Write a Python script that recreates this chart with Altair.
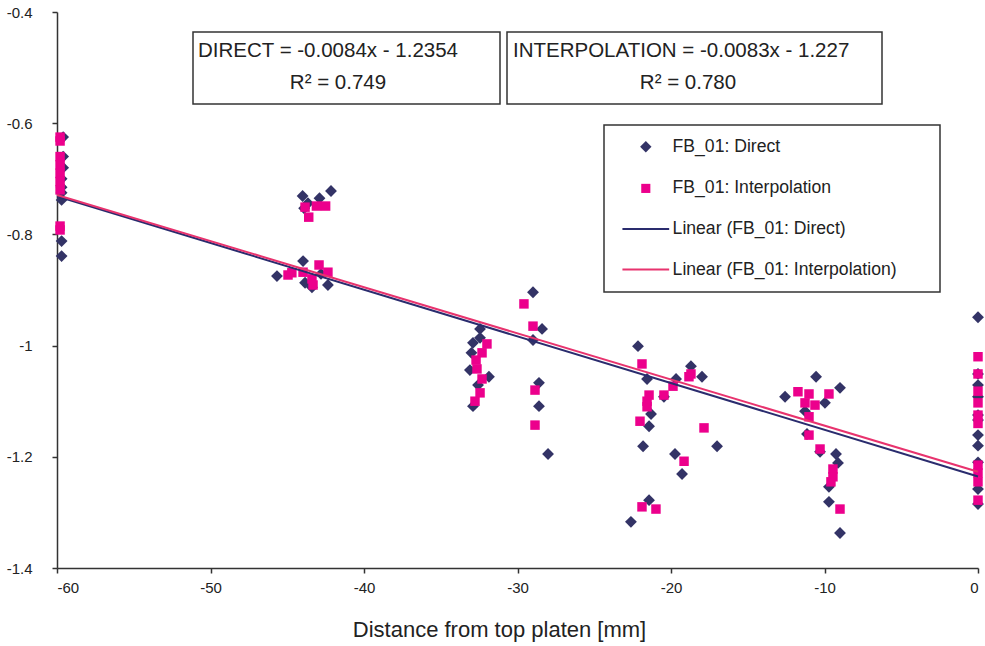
import altair as alt
import pandas as pd

# ---------------- data ----------------
direct_x = [-59.6, -59.6, -59.6, -59.7, -59.7, -59.7, -59.7, -59.7, -59.7,
            -44.0, -43.65, -42.9, -42.15, -43.9,
            -45.67, -43.97, -43.84, -43.39, -42.8, -42.35,
            -32.44, -32.44, -32.9, -33.0, -33.1, -31.86, -32.57, -32.9,
            -28.99, -28.4, -28.99, -28.6, -28.6, -28.01,
            -22.15, -21.56, -21.30, -21.43, -21.82, -20.46, -19.67, -18.70, -17.98,
            -19.74, -19.28, -17.0, -21.43, -22.61,
            -10.55, -8.99, -12.57, -9.97, -11.27, -11.14, -10.29, -9.25, -9.12,
            -9.71, -9.71, -8.99,
            0, 0, 0, 0, 0, 0, 0, 0, 0, 0, 0]
direct_y = [-0.625, -0.66, -0.68, -0.70, -0.715, -0.725, -0.738, -0.812, -0.839,
            -0.731, -0.744, -0.735, -0.722, -0.753,
            -0.875, -0.848, -0.887, -0.895, -0.871, -0.891,
            -0.970, -0.986, -0.995, -1.013, -1.044, -1.056, -1.071, -1.109,
            -0.904, -0.970, -0.990, -1.067, -1.109, -1.195,
            -1.001, -1.060, -1.123, -1.145, -1.181, -1.092, -1.060, -1.037, -1.056,
            -1.195, -1.231, -1.181, -1.278, -1.317,
            -1.056, -1.076, -1.092, -1.103, -1.118, -1.159, -1.191, -1.195, -1.211,
            -1.254, -1.281, -1.337,
            -0.949, -1.051, -1.071, -1.092, -1.125, -1.134, -1.161, -1.18, -1.21, -1.258, -1.285]

interp_x = [-59.8, -59.8, -59.8, -59.8, -59.8, -59.8, -59.8, -59.8, -59.8,
            -43.84, -43.6, -43.1, -42.5,
            -44.95, -44.7, -43.97, -42.93, -43.39, -42.35, -43.32,
            -31.99, -32.31, -32.7, -32.64, -32.31, -32.44, -32.77,
            -29.58, -28.99, -28.86, -28.86,
            -21.89, -21.43, -21.56, -21.56, -22.02, -20.46, -19.87, -18.83, -18.70,
            -17.85, -19.15, -21.89, -20.98,
            -11.73, -11.01, -9.71, -11.27, -10.62, -11.01, -11.01, -10.29, -9.45,
            -9.45, -9.58, -8.99,
            0, 0, 0, 0, 0, 0, 0, 0, 0, 0]
interp_y = [-0.625, -0.632, -0.66, -0.675, -0.69, -0.705, -0.72, -0.785, -0.792,
            -0.751, -0.769, -0.749, -0.749,
            -0.873, -0.869, -0.868, -0.855, -0.88, -0.868, -0.891,
            -0.997, -1.013, -1.026, -1.042, -1.060, -1.085, -1.100,
            -0.925, -0.965, -1.080, -1.143,
            -1.033, -1.089, -1.100, -1.110, -1.136, -1.089, -1.073, -1.056, -1.051,
            -1.148, -1.208, -1.290, -1.294,
            -1.083, -1.087, -1.087, -1.103, -1.107, -1.128, -1.161, -1.186, -1.222,
            -1.236, -1.245, -1.294,
            -1.020, -1.051, -1.082, -1.103, -1.125, -1.14, -1.215, -1.229, -1.245, -1.278]

series_names = ["FB_01: Direct", "FB_01: Interpolation",
                "Linear (FB_01: Direct)", "Linear (FB_01: Interpolation)"]
trend_slope = [-0.0084, -0.0083]
trend_intercept = [-1.2354, -1.227]
trend_x_range = [-60, 0]

x_ticks = [-60, -50, -40, -30, -20, -10, 0]
y_ticks = [-1.4, -1.2, -1.0, -0.8, -0.6, -0.4]
x_title = "Distance from top platen [mm]"
eq_labels = ["DIRECT = -0.0084x - 1.2354", "INTERPOLATION = -0.0083x - 1.227"]
r2_labels = ["R\u00b2 = 0.749", "R\u00b2 = 0.780"]

# ---------------- tables ----------------
pts = pd.concat([
    pd.DataFrame({"x": direct_x, "y": direct_y, "series": series_names[0]}),
    pd.DataFrame({"x": interp_x, "y": interp_y, "series": series_names[1]}),
], ignore_index=True)

trend_rows = []
for i in range(2):
    for xv in trend_x_range:
        trend_rows.append({"x": xv, "y": trend_slope[i] * xv + trend_intercept[i],
                           "series": series_names[2 + i]})
trend = pd.DataFrame(trend_rows)

# ---------------- styling ----------------
FONT = "Liberation Sans"
NAVY = "#333366"
MAGENTA = "#EC008C"
LINE_NAVY = "#2A2C6E"
LINE_PINK = "#E8336E"
SQUARE_PATH = "M-0.8,-0.8H0.8V0.8H-0.8Z"
LINE_PATH = "M-4.1,0H4.1"
MINUS_FIX = "replace(datum.label, '\u2212', '-')"

legend = alt.Legend(title=None, orient="none", legendX=580, legendY=126,
                    labelFont=FONT, labelFontSize=17.6, labelColor="#222222",
                    labelLimit=400,
                    symbolSize=130, symbolStrokeWidth=2, rowPadding=21.6,
                    labelOffset=18, padding=0, symbolOpacity=1)

fill_scale = alt.Scale(domain=series_names, range=[NAVY, MAGENTA, LINE_NAVY, LINE_PINK])
stroke_scale = alt.Scale(domain=series_names,
                         range=["rgba(0,0,0,0)", "rgba(0,0,0,0)", LINE_NAVY, LINE_PINK])
shape_scale = alt.Scale(domain=series_names,
                        range=["diamond", SQUARE_PATH, LINE_PATH, LINE_PATH])

x_enc = alt.X("x:Q", scale=alt.Scale(domain=[-60, 0], nice=False, zero=False),
              axis=alt.Axis(values=x_ticks, title=x_title, labelPadding=7,
                            labelExpr=MINUS_FIX, titleFontSize=22,
                            titleX=442, titleY=68, titleBaseline="alphabetic",
                            titleAlign="center", titleAnchor="start"))
y_enc = alt.Y("y:Q", scale=alt.Scale(domain=[-1.4, -0.4], nice=False, zero=False),
              axis=alt.Axis(values=y_ticks, title=None, format="~g",
                            labelExpr=MINUS_FIX, labelPadding=20))

points = alt.Chart(pts).mark_point(filled=True, size=140, opacity=1, strokeWidth=1).encode(
    x=x_enc, y=y_enc,
    fill=alt.Fill("series:N", scale=fill_scale, legend=legend),
    stroke=alt.Stroke("series:N", scale=stroke_scale, legend=legend),
    shape=alt.Shape("series:N", scale=shape_scale, legend=legend),
)

lines = alt.Chart(trend).mark_line(strokeWidth=2).encode(
    x=x_enc, y=y_enc,
    stroke=alt.Stroke("series:N", scale=stroke_scale, legend=legend),
)

one = pd.DataFrame({"k": [0]})

def box(x1, x2, y1, y2):
    return alt.Chart(one).mark_rect(fill="white", stroke="#333333", strokeWidth=1.5).encode(
        x=alt.value(x1), x2=alt.value(x2), y=alt.value(y1), y2=alt.value(y2))

def label(txt, xp, yp, align):
    return alt.Chart(pd.DataFrame({"t": [txt]})).mark_text(
        font=FONT, fontSize=20.5, color="#222222", align=align, baseline="middle"
    ).encode(text="t:N", x=alt.value(xp), y=alt.value(yp))

annotations = [
    box(136, 443, 20, 92), box(450, 825, 20, 92), box(547, 883, 113, 280),
    label(eq_labels[0], 141, 39, "left"), label(r2_labels[0], 281, 71, "center"),
    label(eq_labels[1], 456, 39, "left"), label(r2_labels[1], 631, 71, "center"),
]

chart = alt.layer(*annotations, points, lines).properties(
    width=921, height=556,
    autosize=alt.AutoSizeParams(type="none"),
    padding={"left": 57, "top": 12, "right": 7, "bottom": 78},
).configure_view(strokeWidth=0).configure_axis(
    grid=False, domainColor="#333333", domainWidth=1.5, tickColor="#333333",
    tickWidth=1.5, tickSize=5, labelFont=FONT, labelFontSize=15, labelColor="#222222",
    titleFont=FONT, titleFontSize=18, titleFontWeight="normal", titleColor="#222222",
)

chart.save("out.html", embed_options={"renderer": "svg", "actions": False})
